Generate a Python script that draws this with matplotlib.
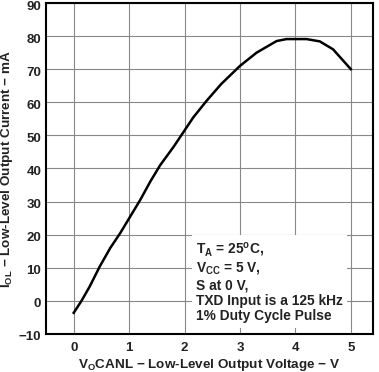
import matplotlib
matplotlib.use("Agg")
import matplotlib.pyplot as plt
from matplotlib.transforms import ScaledTranslation

vo = [0.0, 0.14, 0.29, 0.47, 0.66, 0.84, 1.02, 1.2, 1.38, 1.56, 1.8, 2.0, 2.16, 2.4,
      2.66, 3.0, 3.3, 3.66, 3.84, 4.2, 4.44, 4.68, 5.0]
iol = [-3.6, 0.0, 4.4, 10.4, 16.0, 20.5, 25.5, 30.5, 36.0, 41.0, 46.5, 51.5, 55.5, 60.5,
       65.5, 71.0, 75.0, 78.5, 79.1, 79.1, 78.4, 76.0, 70.0]
xticks = [0, 1, 2, 3, 4, 5]
yticks = [-10, 0, 10, 20, 30, 40, 50, 60, 70, 80, 90]

plt.rcParams['font.family'] = ['Liberation Sans', 'DejaVu Sans']
fig = plt.figure(figsize=(3.79, 3.72), dpi=100)
ax = fig.add_axes([46/379, 1 - 334/372, (373-46)/379, (334-3)/372])
ax.plot(vo, iol, color='black', lw=1.8)
ax.set_xlim(-0.5, 5.4)
ax.set_ylim(-10, 90)
ax.set_xticks(xticks)
ax.set_yticks(yticks)
ax.set_yticklabels(['\u221210'] + [str(v) for v in yticks[1:]])
ax.grid(True, color='#888888', lw=0.8)
ax.tick_params(length=0, labelsize=9.5)
ax.tick_params(axis='y', pad=3.5)
ax.tick_params(axis='x', pad=6)
off = ScaledTranslation(0, -2/100, fig.dpi_scale_trans)
for lab in ax.get_yticklabels():
    lab.set_transform(lab.get_transform() + off)
for lab in ax.get_xticklabels() + ax.get_yticklabels():
    lab.set_fontweight('bold')
    lab.set_color('#222222')
for s in ax.spines.values():
    s.set_linewidth(1.5)
ax.set_xlabel('V$_\\mathregular{O}$CANL \u2212 Low-Level Output Voltage \u2212 V',
              fontsize=9.7, fontweight='bold', labelpad=2, color='#222222')
ax.set_ylabel('I$_\\mathregular{OL}$ \u2212 Low-Level Output Current \u2212 mA',
              fontsize=9.7, fontweight='bold', color='#222222')
ax.yaxis.set_label_coords(-0.095, 0.5)
txt = ('T$_\\mathregular{A}$ = 25$^\\mathregular{o}$C,\n'
       'V$_\\mathregular{CC}$ = 5 V,\n'
       'S at 0 V,\n'
       'TXD Input is a 125 kHz\n'
       '1% Duty Cycle Pulse')
ax.text(2.2, -6.8, txt, fontsize=9.9, fontweight='bold', color='#222222',
        va='bottom', ha='left', linespacing=1.15,
        bbox=dict(facecolor='white', edgecolor='none', pad=3))
fig.savefig('out.png', dpi=100)
